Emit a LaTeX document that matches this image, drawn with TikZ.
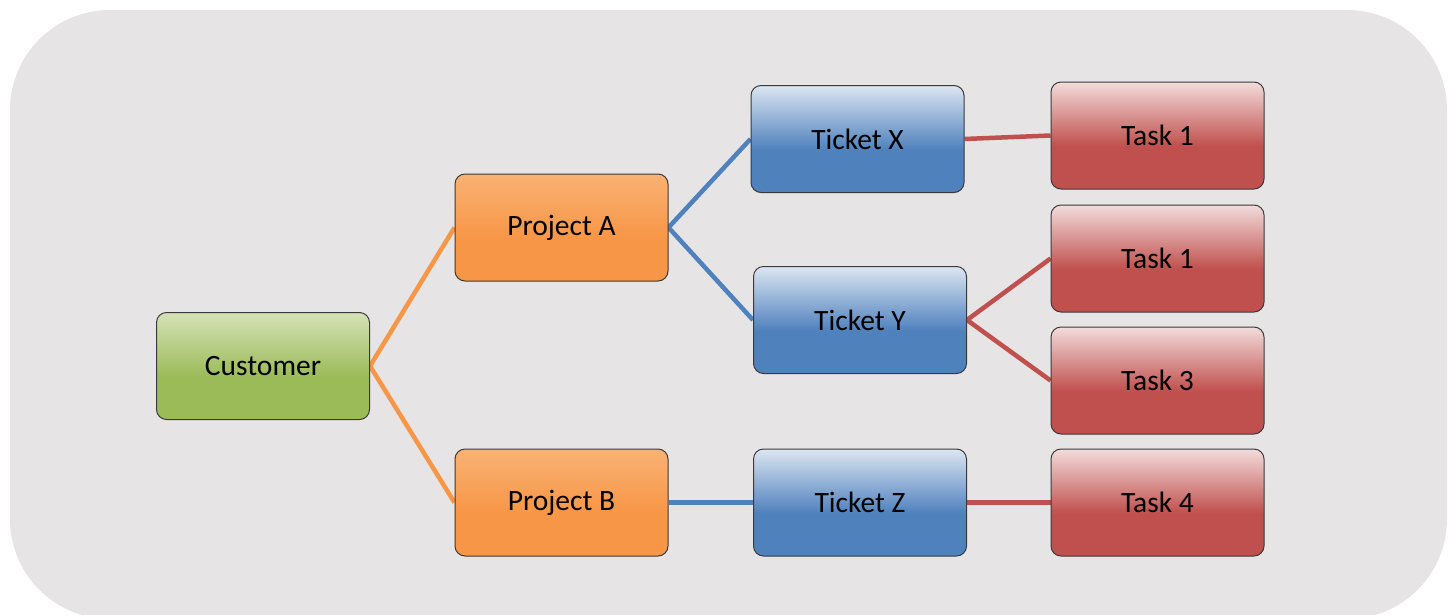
\documentclass[tikz,border=0pt]{standalone}
\usepackage{fontspec}
\setmainfont{Carlito}
\definecolor{bgc}{HTML}{E6E4E5}
\definecolor{edgec}{HTML}{3A3A3A}
\definecolor{grnT}{HTML}{D4E2B6}
\definecolor{grnB}{HTML}{9BBB59}
\definecolor{orgT}{HTML}{FAB274}
\definecolor{orgB}{HTML}{F79646}
\definecolor{bluT}{HTML}{DCE6F2}
\definecolor{bluB}{HTML}{4F81BD}
\definecolor{redT}{HTML}{F2DCDB}
\definecolor{redB}{HTML}{C0504D}
\pgfdeclareverticalshading{grnsh}{100bp}{color(0bp)=(grnB); color(25bp)=(grnB); color(45bp)=(grnB); color(75bp)=(grnT); color(100bp)=(grnT)}
\pgfdeclareverticalshading{orgsh}{100bp}{color(0bp)=(orgB); color(25bp)=(orgB); color(45bp)=(orgB); color(75bp)=(orgT); color(100bp)=(orgT)}
\pgfdeclareverticalshading{blush}{100bp}{color(0bp)=(bluB); color(25bp)=(bluB); color(45bp)=(bluB); color(75bp)=(bluT); color(100bp)=(bluT)}
\pgfdeclareverticalshading{redsh}{100bp}{color(0bp)=(redB); color(25bp)=(redB); color(45bp)=(redB); color(75bp)=(redT); color(100bp)=(redT)}
\pgfdeclarelayer{bglayer}
\pgfdeclarelayer{linelayer}
\pgfsetlayers{bglayer,linelayer,main}
\tikzset{
  box/.style={draw=edgec, line width=1pt, rounded corners=10pt, minimum width=213pt, minimum height=107pt, inner sep=0pt, font=\fontsize{29.5}{35}\selectfont, text=black},
  custbox/.style={box, shading=grnsh},
  projbox/.style={box, shading=orgsh},
  tickbox/.style={box, shading=blush},
  taskbox/.style={box, shading=redsh},
  conn/.style={line width=4.5pt},
  orgline/.style={conn, draw=orgB},
  bluline/.style={conn, draw=bluB},
  redline/.style={conn, draw=redB}
}
\begin{document}
\begin{tikzpicture}[x=1pt,y=-1pt]
\useasboundingbox (0,0) rectangle (1454,614);
\begin{pgfonlayer}{bglayer}
\fill[bgc, rounded corners=100pt] (10,10) rectangle (1447,619);
\end{pgfonlayer}
\node[custbox] (cust) at (263,366) {Customer};
\node[projbox] (pa) at (561.5,227.5) {Project A};
\node[projbox] (pb) at (561.5,502.5) {Project B};
\node[tickbox] (tx) at (857.5,139) {Ticket X};
\node[tickbox] (ty) at (860,320) {Ticket Y};
\node[tickbox] (tz) at (860,502.5) {Ticket Z};
\node[taskbox] (k1) at (1157.5,135.5) {Task 1};
\node[taskbox] (k2) at (1157.5,258.5) {Task 1};
\node[taskbox] (k3) at (1157.5,380.5) {Task 3};
\node[taskbox] (k4) at (1157.5,502.5) {Task 4};
\begin{pgfonlayer}{linelayer}
\draw[orgline] (cust.east) -- (pa.west);
\draw[orgline] (cust.east) -- (pb.west);
\draw[bluline] (pa.east) -- (tx.west);
\draw[bluline] (pa.east) -- (ty.west);
\draw[bluline] (pb.east) -- (tz.west);
\draw[redline] (tx.east) -- (k1.west);
\draw[redline] (ty.east) -- (k2.west);
\draw[redline] (ty.east) -- (k3.west);
\draw[redline] (tz.east) -- (k4.west);
\end{pgfonlayer}
\end{tikzpicture}
\end{document}
